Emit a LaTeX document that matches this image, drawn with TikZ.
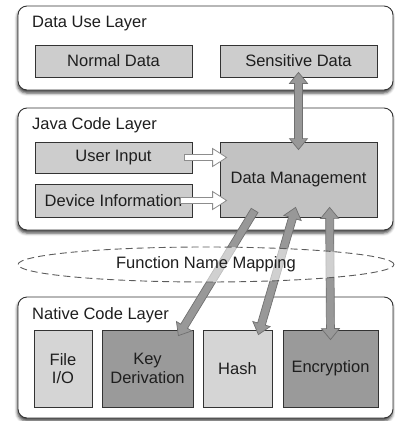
\documentclass[tikz,border=0pt]{standalone}
\usepackage{fontspec}
\setmainfont{Liberation Sans}
\usetikzlibrary{calc,shadows.blur}
\definecolor{txt}{HTML}{1E1E1E}
\definecolor{edge}{HTML}{333333}
\definecolor{lightbox}{HTML}{CDCDCD}
\definecolor{midbox}{HTML}{C2C2C2}
\definecolor{palebox}{HTML}{D5D5D5}
\definecolor{darkbox}{HTML}{9A9A9A}
\definecolor{arrfill}{HTML}{989898}
\definecolor{arredge}{HTML}{707070}
\newcommand\arrowdbl[2]{%
  \coordinate (ha) at ($(#1)!11pt!(#2)$);
  \coordinate (hb) at ($(#2)!11pt!(#1)$);
  \draw[fatarr] (#1) -- ($(ha)!9pt!90:(#2)$) -- ($(ha)!4pt!90:(#2)$)
    -- ($(hb)!4pt!-90:(#1)$) -- ($(hb)!9pt!-90:(#1)$) -- (#2)
    -- ($(hb)!9pt!90:(#1)$) -- ($(hb)!4pt!90:(#1)$)
    -- ($(ha)!4pt!-90:(#2)$) -- ($(ha)!9pt!-90:(#2)$) -- cycle;
}
\newcommand\arrowone[6]{% style, tail, tip, head length, head half, shaft half
  \coordinate (hb) at ($(#3)!#4!(#2)$);
  \draw[#1] ($(#2)!#6!90:(#3)$) -- ($(hb)!#6!-90:(#2)$) -- ($(hb)!#5!-90:(#2)$)
    -- (#3) -- ($(hb)!#5!90:(#2)$) -- ($(hb)!#6!90:(#2)$)
    -- ($(#2)!#6!-90:(#3)$) -- cycle;
}
\tikzset{
  every node/.style={font=\fontsize{16.5}{18.5}\selectfont, text=txt},
  layer/.style={draw=edge, line width=0.9pt, fill=white, rounded corners=9pt,
    inner sep=0pt, blur shadow={shadow xshift=-0.5pt, shadow yshift=-3pt,
    shadow blur radius=3pt, shadow opacity=75}},
  inbox/.style={draw=edge, line width=0.8pt, inner sep=0pt, align=center},
  title/.style={anchor=base west, inner sep=0pt},
  fatarr/.style={fill=arrfill, draw=arredge, line width=0.7pt, line join=miter},
  openarr/.style={fill=white, draw=arredge!80, line width=0.8pt, line join=miter},
}
\begin{document}
\begin{tikzpicture}[x=1pt,y=-1pt]
\useasboundingbox (0,0) rectangle (395,421);
% layers
\node[layer, minimum width=375pt, minimum height=84pt] (use) at (205.5,48) {};
\node[layer, minimum width=375pt, minimum height=122pt] (java) at (205.5,169) {};
\node[layer, minimum width=375pt, minimum height=121pt] (native) at (205.5,357.5) {};
\node[title] (tuse) at (32,27) {Data Use Layer};
\node[title] (tjava) at (32,129) {Java Code Layer};
\node[title] (tnative) at (32,319) {Native Code Layer};
% inner boxes
\node[inbox, fill=lightbox, minimum width=157pt, minimum height=32pt] (nd) at (113.5,61) {Normal Data};
\node[inbox, fill=lightbox, minimum width=157pt, minimum height=32pt] (sd) at (298.5,61) {Sensitive Data};
\node[inbox, fill=lightbox, minimum width=157pt, minimum height=31pt] (ui) at (113.5,157.5) {User Input};
\node[inbox, fill=lightbox, minimum width=157pt, minimum height=33pt] (di) at (113.5,200.5) {Device Information};
\node[inbox, fill=midbox, minimum width=157pt, minimum height=75pt] (dm) at (298.5,179.5) {Data Management};
\node[inbox, fill=palebox, minimum width=58pt, minimum height=77pt] (fio) at (63,368.5) {File\\I/O};
\node[inbox, fill=darkbox, minimum width=91pt, minimum height=77pt] (kd) at (147.5,368.5) {Key\\Derivation};
\node[inbox, fill=palebox, minimum width=69pt, minimum height=77pt] (hash) at (237.5,368.5) {Hash};
\node[inbox, fill=darkbox, minimum width=95pt, minimum height=77pt] (enc) at (330.5,368.5) {Encryption};
% open arrows
\coordinate (uiT) at ($(ui.east)+(-8,0)$);
\coordinate (uiH) at ($(dm.west |- ui.east)+(7,0)$);
\coordinate (diT) at ($(di.east)+(-12,0)$);
\coordinate (diH) at ($(dm.west |- di.east)+(7,0)$);
\arrowone{openarr}{uiT}{uiH}{14pt}{9pt}{3pt}
\arrowone{openarr}{diT}{diH}{14pt}{9pt}{3pt}
% fat arrows
\coordinate (sdA) at ($(sd.south)+(0,-5)$);
\coordinate (dmA) at ($(dm.north)+(0,8)$);
\arrowdbl{sdA}{dmA}
\coordinate (kdT) at ($(dm.south west)+(35,-7)$);
\coordinate (kdH) at ($(kd.north east)+(-15,6)$);
\arrowone{fatarr}{kdT}{kdH}{11pt}{9pt}{4pt}
\coordinate (hsA) at ($(dm.south west)+(76,-10)$);
\coordinate (hsB) at ($(hash.north east)+(-14,5)$);
\arrowdbl{hsA}{hsB}
\coordinate (enA) at ($(dm.south west)+(110,-10)$);
\coordinate (enB) at ($(enc.north)+(0,10)$);
\arrowdbl{enA}{enB}
% mapping ellipse
\draw[draw=edge!80, line width=0.9pt, dash pattern=on 7pt off 4pt, fill=white, fill opacity=0.55]
  (206,264.5) ellipse [x radius=188pt, y radius=17.5pt];
\node (fnm) at (206,264) {Function Name Mapping};
\end{tikzpicture}
\end{document}
